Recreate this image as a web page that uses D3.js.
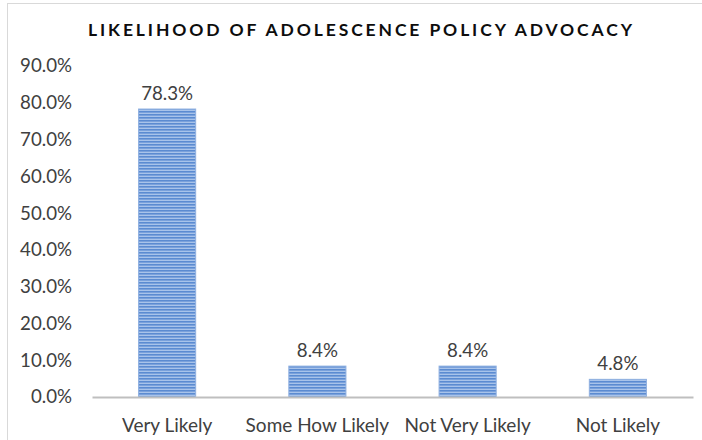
<!DOCTYPE html>
<html><head><meta charset="utf-8">
<script src="https://cdn.jsdelivr.net/npm/d3@7"></script>
<style>body{margin:0;background:#fff;} svg{display:block;}</style>
</head><body>
<svg id="c" width="702" height="440"></svg>
<script>
const categories = ["Very Likely", "Some How Likely", "Not Very Likely", "Not Likely"];
const values = [78.3, 8.4, 8.4, 4.8];
const yTicks = [0, 10, 20, 30, 40, 50, 60, 70, 80, 90];
const title = "LIKELIHOOD OF ADOLESCENCE POLICY ADVOCACY";

const svg = d3.select("#c");
const font = "Lato, 'Open Sans', sans-serif";

// frame
svg.append("line").attr("x1",7.5).attr("x2",7.5).attr("y1",3).attr("y2",440).attr("stroke","#d9d9d9");
svg.append("line").attr("x1",7).attr("x2",702).attr("y1",3.5).attr("y2",3.5).attr("stroke","#d9d9d9");

// stripe pattern
const defs = svg.append("defs");
const pat = defs.append("pattern").attr("id","stripe").attr("patternUnits","userSpaceOnUse")
  .attr("width",4).attr("height",3);
pat.append("rect").attr("width",4).attr("height",3).attr("fill","#a8c3ea");
pat.append("rect").attr("width",4).attr("height",1.6).attr("fill","#5b8bd1");

const x = d3.scaleBand().domain(categories).range([92, 693]).paddingInner(0.62).paddingOuter(0.31);
const y = d3.scaleLinear().domain([0, 90]).range([397, 66]);

// title
svg.append("text").attr("x",360).attr("y",36).attr("text-anchor","middle")
  .attr("font-family",font).attr("font-weight","bold").attr("font-size",17.5)
  .attr("fill","#0d0d0d").attr("textLength",544).attr("lengthAdjust","spacing")
  .text(title);

// y axis labels
const yAxis = d3.axisLeft(y).tickValues(yTicks).tickFormat(d => d.toFixed(1) + "%").tickSize(0).tickPadding(0);
const ya = svg.append("g").attr("transform","translate(72,0)").call(yAxis);
ya.select(".domain").remove();
ya.selectAll("text").attr("font-family",font).attr("font-size",18.7).attr("fill","#404040");

// bars
svg.selectAll("rect.bar").data(values).join("rect").attr("class","bar")
  .attr("x",(d,i)=>x(categories[i])).attr("width",x.bandwidth())
  .attr("y",d=>y(d)).attr("height",d=>y(0)-y(d))
  .attr("fill","url(#stripe)").attr("stroke","#8fb0e0").attr("stroke-width",1);

// x axis
const xAxis = d3.axisBottom(x).tickSize(0).tickPadding(22);
const xa = svg.append("g").attr("transform",`translate(0,${y(0)})`).call(xAxis);
xa.select(".domain").attr("stroke","#bfbfbf").attr("stroke-width",2);
xa.selectAll("text").attr("font-family",font).attr("font-size",19).attr("fill","#404040");

// value labels
svg.selectAll("text.val").data(values).join("text").attr("class","val")
  .attr("x",(d,i)=>x(categories[i])+x.bandwidth()/2).attr("y",d=>y(d)-9)
  .attr("text-anchor","middle").attr("font-family",font).attr("font-size",18.7)
  .attr("fill","#404040").text(d=>d.toFixed(1)+"%");
</script>
</body></html>
